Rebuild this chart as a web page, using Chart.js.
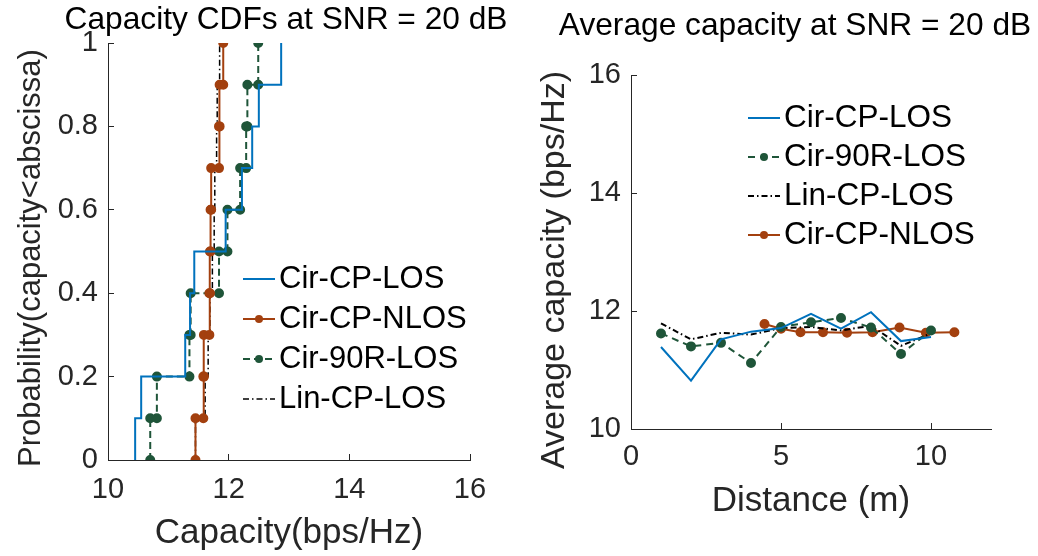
<!DOCTYPE html>
<html>
<head>
<meta charset="utf-8">
<title>Capacity at SNR = 20 dB</title>
<script src="https://cdn.jsdelivr.net/npm/chart.js@4.4.1/dist/chart.umd.min.js"></script>
<style>
  body { margin: 0; background: #fff; width: 1038px; height: 556px; position: relative; overflow: hidden;
         font-family: "Liberation Sans", Arial, Helvetica, sans-serif; }
  .pane { position: absolute; top: 0; width: 519px; height: 556px; }
  #leftPane { left: 0; }
  #rightPane { left: 519px; }
  .ttl { position: absolute; font-size: 31.7px; line-height: 32px; color: #000; white-space: nowrap; transform: translateX(-50%); }
</style>
</head>
<body>
<div class="pane" id="leftPane"><canvas id="cdfChart" width="519" height="556"></canvas></div>
<div class="pane" id="rightPane"><canvas id="avgChart" width="519" height="556"></canvas></div>
<div class="ttl" style="left:286px; top:2px;">Capacity CDFs at SNR = 20 dB</div>
<div class="ttl" style="left:795px; top:8px;">Average capacity at SNR = 20 dB</div>

<script>
// --- data ---
// left: sorted capacity samples of each empirical CDF (bps/Hz)
const cdfLevels = [0, 0.1, 0.2, 0.3, 0.4, 0.5, 0.6, 0.7, 0.8, 0.9, 1];
const cdfCirCPLOS  = [10.45, 10.55, 11.28, 11.36, 11.43, 11.95, 12.22, 12.39, 12.50, 12.87];
const cdfCirCPNLOS = [11.45, 11.58, 11.59, 11.68, 11.69, 11.70, 11.71, 11.84, 11.85, 11.91];
const cdfCir90RLOS = [10.70, 10.81, 11.35, 11.37, 11.84, 11.98, 12.19, 12.29, 12.31, 12.49];
const cdfLinCPLOS  = [11.45, 11.61, 11.66, 11.69, 11.73, 11.76, 11.77, 11.80, 11.81, 11.85];
const cdfTicksX = [10, 12, 14, 16];
const cdfTicksY = [0, 0.2, 0.4, 0.6, 0.8, 1];

// right: average capacity vs distance
const distance     = [1, 2, 3, 4, 5, 6, 7, 8, 9, 10];
const avgCirCPLOS  = [11.39, 10.82, 11.52, 11.65, 11.71, 11.95, 11.70, 11.98, 11.49, 11.56];
const avgCir90RLOS = [11.62, 11.40, 11.46, 11.12, 11.73, 11.81, 11.88, 11.72, 11.27, 11.67];
const avgLinCPLOS  = [11.79, 11.52, 11.63, 11.60, 11.71, 11.73, 11.67, 11.75, 11.41, 11.62];
const distanceNLOS = [4.45, 5.0, 5.65, 6.4, 7.2, 8.05, 8.95, 9.83, 10.78];
const avgCirCPNLOS = [11.78, 11.70, 11.64, 11.64, 11.63, 11.64, 11.72, 11.63, 11.64];

const BLUE = '#0072BD';
const RUST = '#A3400F';
const GREEN = '#1F5539';
const AXIS = '#262626';
const FONT = '"Liberation Sans", Arial, Helvetica, sans-serif';

// stairs: every sample gives two vertices, (x, F before) and (x, F after)
function stairs(samples) {
  const pts = [];
  samples.forEach((x, i) => {
    pts.push({ x: x, y: cdfLevels[i] });
    pts.push({ x: x, y: cdfLevels[i + 1] });
  });
  return pts;
}

function zip(xs, ys) {
  return xs.map((x, i) => ({ x: x, y: ys[i] }));
}

// legend drawn inside the axes, MATLAB style (no box)
const innerLegend = {
  id: 'innerLegend',
  afterDatasetsDraw(chart, args, opts) {
    const ctx = chart.ctx;
    ctx.save();
    ctx.font = opts.fontSize + 'px ' + FONT;
    ctx.textBaseline = 'middle';
    opts.order.forEach((idx, i) => {
      const ds = chart.data.datasets[idx];
      const y = opts.y + i * opts.rowGap;
      ctx.strokeStyle = ds.borderColor;
      ctx.lineWidth = ds.borderWidth;
      ctx.setLineDash(ds.borderDash || []);
      ctx.beginPath();
      ctx.moveTo(opts.x, y);
      ctx.lineTo(opts.x + opts.lineLen, y);
      ctx.stroke();
      ctx.setLineDash([]);
      if (ds.pointRadius > 0) {
        ctx.fillStyle = ds.borderColor;
        ctx.beginPath();
        ctx.arc(opts.x + opts.lineLen / 2, y, ds.pointRadius, 0, Math.PI * 2);
        ctx.fill();
      }
      ctx.fillStyle = '#000';
      ctx.fillText(ds.label, opts.x + opts.lineLen + opts.gap, y);
    });
    ctx.restore();
  }
};

// rotated y label placed like MATLAB does it
const yLabel = {
  id: 'yLabel',
  afterDraw(chart, args, opts) {
    const ctx = chart.ctx;
    ctx.save();
    ctx.font = opts.fontSize + 'px ' + FONT;
    ctx.fillStyle = AXIS;
    ctx.textAlign = 'center';
    ctx.textBaseline = 'middle';
    ctx.translate(opts.x, opts.y);
    ctx.rotate(-Math.PI / 2);
    ctx.fillText(opts.text, 0, 0);
    ctx.restore();
  }
};

const fmt = v => String(Number(v.toFixed(2)));

function axisOpts(extra) {
  const base = {
    type: 'linear',
    border: { color: AXIS, width: 1 },
    grid: { drawOnChartArea: false, drawTicks: true, tickLength: -6, color: AXIS },
    ticks: { color: AXIS, font: { family: FONT, size: 29 }, includeBounds: false, callback: fmt },
    title: { display: false, color: AXIS, font: { family: FONT, size: 35 } }
  };
  return Chart.helpers.merge(base, extra);
}

const commonOpts = {
  responsive: false,
  animation: false,
  plugins: { legend: { display: false }, tooltip: { enabled: false } },
  elements: { line: { tension: 0 } }
};

new Chart(document.getElementById('cdfChart'), {
  type: 'line',
  data: {
    datasets: [
      { label: 'Cir-CP-LOS', data: stairs(cdfCirCPLOS), borderColor: BLUE, borderWidth: 2, pointRadius: 0 },
      { label: 'Cir-CP-NLOS', data: stairs(cdfCirCPNLOS), borderColor: RUST, backgroundColor: RUST, borderWidth: 2, pointRadius: 4 },
      { label: 'Cir-90R-LOS', data: stairs(cdfCir90RLOS), borderColor: GREEN, backgroundColor: GREEN, borderWidth: 2, borderDash: [7, 4], pointRadius: 4 },
      { label: 'Lin-CP-LOS', data: stairs(cdfLinCPLOS), borderColor: '#000', borderWidth: 1.5, borderDash: [6, 3, 1.5, 3], pointRadius: 0 }
    ]
  },
  options: Chart.helpers.merge({}, [commonOpts, {
    layout: { padding: { left: 0, top: 43, right: 519 - 470, bottom: 0 } },
    plugins: {
      innerLegend: { x: 243, y: 279, rowGap: 40, lineLen: 32, gap: 4, fontSize: 31, order: [0, 1, 2, 3] },
      yLabel: { text: 'Probability(capacity<abscissa)', x: 31, y: 258, fontSize: 31 }
    },
    scales: {
      x: axisOpts({
        min: 10, max: 16,
        afterBuildTicks: s => { s.ticks = cdfTicksX.map(v => ({ value: v })); },
        afterFit: s => { s.height = 96; },
        ticks: { padding: 19 },
        title: { display: true, text: 'Capacity(bps/Hz)', padding: { top: 0, bottom: 2 } }
      }),
      y: axisOpts({
        min: 0, max: 1,
        afterBuildTicks: s => { s.ticks = cdfTicksY.map(v => ({ value: v })); },
        afterFit: s => { s.width = 108; },
        ticks: { padding: 16 }
      })
    }
  }]),
  plugins: [innerLegend, yLabel]
});

new Chart(document.getElementById('avgChart'), {
  type: 'line',
  data: {
    datasets: [
      { label: 'Cir-CP-LOS', data: zip(distance, avgCirCPLOS), borderColor: BLUE, borderWidth: 2, pointRadius: 0 },
      { label: 'Cir-90R-LOS', data: zip(distance, avgCir90RLOS), borderColor: GREEN, backgroundColor: GREEN, borderWidth: 2, borderDash: [7, 5], pointRadius: 4 },
      { label: 'Lin-CP-LOS', data: zip(distance, avgLinCPLOS), borderColor: '#000', borderWidth: 2, borderDash: [6, 3, 1.5, 3], pointRadius: 0 },
      { label: 'Cir-CP-NLOS', data: zip(distanceNLOS, avgCirCPNLOS), borderColor: RUST, backgroundColor: RUST, borderWidth: 2, pointRadius: 4 }
    ]
  },
  options: Chart.helpers.merge({}, [commonOpts, {
    layout: { padding: { left: 0, top: 75, right: 519 - 472, bottom: 0 } },
    plugins: {
      innerLegend: { x: 229, y: 118, rowGap: 39, lineLen: 32, gap: 4, fontSize: 31.5, order: [0, 1, 2, 3] },
      yLabel: { text: 'Average capacity (bps/Hz)', x: 36, y: 270, fontSize: 34 }
    },
    scales: {
      x: axisOpts({
        min: 0, max: 12,
        ticks: { stepSize: 5, padding: 17 },
        afterFit: s => { s.height = 127; },
        title: { display: true, text: 'Distance (m)', padding: { top: 0, bottom: 34 } }
      }),
      y: axisOpts({
        min: 10, max: 16,
        ticks: { stepSize: 2, padding: 16 },
        afterFit: s => { s.width = 112; }
      })
    }
  }]),
  plugins: [innerLegend, yLabel]
});
</script>
</body>
</html>
